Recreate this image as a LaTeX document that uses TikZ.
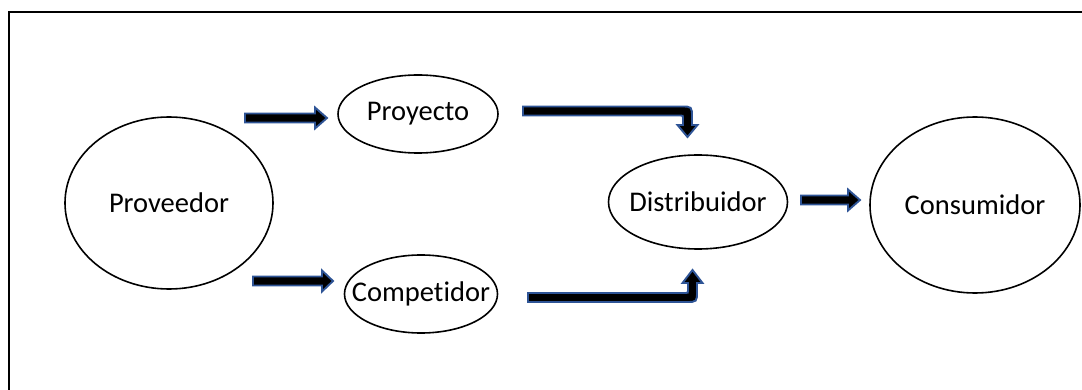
\documentclass[tikz,border=0pt]{standalone}
\usepackage{fontspec}
\setmainfont[Ligatures=NoCommon]{Carlito}
\usetikzlibrary{shapes.geometric,calc}
\definecolor{arrowedge}{RGB}{46,84,150}
\tikzset{
  stage/.style={ellipse, draw=black, line width=1.6pt, inner sep=0pt},
  stagetext/.style={font=\fontsize{28.5}{34}\selectfont, inner sep=0pt},
  blockarrow/.style={draw=arrowedge, fill=black, line width=1.9pt, line join=miter},
}
% straight block arrow pointing right: start coordinate, total length, head length
\newcommand\blockarrowR[3]{%
  \draw[blockarrow] ($(#1)+(0,-4.5)$) -- ++({#2-#3},0) -- ++(0,-6)
    -- ++(#3,10.5) -- ++(-#3,10.5) -- ++(0,-6) -- ++({-(#2-#3)},0) -- cycle;}
\begin{document}
\begin{tikzpicture}[x=1pt, y=-1pt]
  \useasboundingbox (0,0) rectangle (1082,390);
  % frame, open on the right and at the bottom
  \draw[line width=2pt] (8.5,395) -- (8.5,12.5) -- (1090,12.5);

  % stages (text set as a centred label so it does not widen the ellipse)
  \node[stage, minimum width=208pt, minimum height=172pt,
        label={[stagetext]center:Proveedor}] (prov) at (169,203) {};
  \node[stage, minimum width=160pt, minimum height=78pt,
        label={[stagetext]center:Proyecto}] (proy) at (418,114) {};
  \node[stage, minimum width=153pt, minimum height=78pt,
        label={[stagetext]center:Competidor}] (comp) at (421,294) {};
  \node[stage, minimum width=179pt, minimum height=94pt,
        label={[stagetext]center:Distribuidor}] (dist) at (698,202) {};
  \node[stage, minimum width=210pt, minimum height=176pt,
        label={[stagetext]center:Consumidor}] (cons) at (975,205) {};

  % arrow anchors
  \coordinate (a1) at (245,118);
  \coordinate (a2) at (253,281);
  \coordinate (a3) at (801,200);

  \blockarrowR{a1}{82}{12}
  \blockarrowR{a2}{80}{11}
  \blockarrowR{a3}{59}{12}

  % bent arrow Proyecto -> Distribuidor
  \draw[blockarrow] (523,106.5) -- (681,106.5) .. controls (692,106.5) .. (692,117.5)
    -- (692,125) -- (697.5,125) -- (687.5,137) -- (677.5,125) -- (683,125)
    -- (683,118) .. controls (683,115.5) .. (680.5,115.5) -- (523,115.5) -- cycle;

  % bent arrow Competidor -> Distribuidor
  \draw[blockarrow] (528,302) -- (686,302) .. controls (697,302) .. (697,291)
    -- (697,283) -- (702.5,283) -- (692.5,270) -- (682.5,283) -- (688,283)
    -- (688,290.5) .. controls (688,293) .. (685.5,293) -- (528,293) -- cycle;
\end{tikzpicture}
\end{document}
